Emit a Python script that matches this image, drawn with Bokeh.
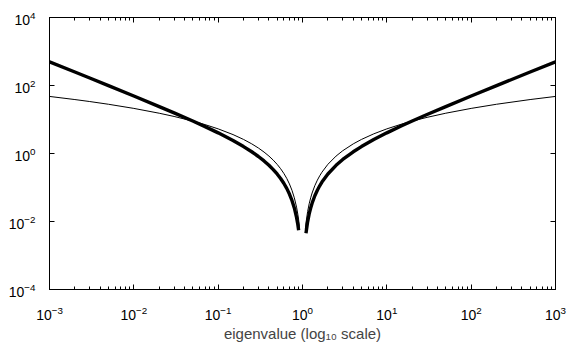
from bokeh.plotting import figure
from bokeh.models import LogAxis, FixedTicker, CustomJSTickFormatter
from bokeh.embed import file_html
from bokeh.resources import INLINE

# Left branch (eigenvalue < 1)
x_left_thick = [0.001, 0.002, 0.003, 0.005, 0.01, 0.02, 0.03, 0.05, 0.07, 0.1, 0.15, 0.2, 0.25, 0.3, 0.35,
                0.4, 0.45, 0.5, 0.55, 0.6, 0.65, 0.7, 0.75, 0.8, 0.85, 0.88, 0.9]
y_left_thick = [499.0, 249.0, 165.67, 99.0, 49.0, 24.01, 15.68, 9.025, 6.178, 4.05, 2.408, 1.6, 1.125, 0.8167, 0.6036,
                0.45, 0.3361, 0.25, 0.1841, 0.1333, 0.09423, 0.06429, 0.04167, 0.025, 0.01324, 0.00818, 0.005556]
x_left_thin = [0.001, 0.002, 0.003, 0.005, 0.01, 0.02, 0.03, 0.05, 0.07, 0.1, 0.15, 0.2, 0.25, 0.3, 0.35,
               0.4, 0.45, 0.5, 0.55, 0.6, 0.65, 0.7, 0.75, 0.8, 0.85, 0.88, 0.9, 0.92]
y_left_thin = [47.72, 38.62, 33.75, 28.07, 21.21, 15.30, 12.30, 8.974, 7.072, 5.302, 3.599, 2.590, 1.922, 1.450, 1.102,
               0.8396, 0.6376, 0.4805, 0.3574, 0.2609, 0.1856, 0.1272, 0.08276, 0.04979, 0.02641, 0.01634, 0.0111, 0.006952]

# Right branch (eigenvalue > 1)
x_right_thick = [1.1, 1.15, 1.2, 1.25, 1.3, 1.4, 1.5, 1.6, 1.7, 2, 2.5, 3, 4, 5, 7, 10, 15, 20, 30, 50,
                 100, 200, 500, 1000]
y_right_thick = [0.004545, 0.009783, 0.016667, 0.025, 0.034615, 0.057143, 0.083333, 0.1125, 0.144118, 0.25, 0.45,
                 0.666667, 1.125, 1.6, 2.571429, 4.05, 6.533333, 9.025, 14.01667, 24.01, 49.005, 99.0025, 249.001, 499.0005]
x_right_thin = [1.08, 1.1, 1.15, 1.2, 1.25, 1.3, 1.4, 1.5, 1.6, 1.7, 2, 2.5, 3, 4, 5, 7, 10, 15, 20, 30, 50,
                100, 200, 500, 1000]
y_right_thin = [0.005923, 0.009084, 0.01953, 0.03324, 0.04979, 0.06884, 0.11321, 0.1644, 0.2209, 0.28157, 0.480453,
                0.839589, 1.206949, 1.921812, 2.590290, 3.78657, 5.301898, 7.33353, 8.974412, 11.56814, 15.30392,
                21.20759, 28.07216, 38.62135, 47.71708]

x_major = [1e-3, 1e-2, 1e-1, 1e0, 1e1, 1e2, 1e3]
y_major = [1e-4, 1e-2, 1e0, 1e2, 1e4]
x_minor = [m * d for d in [1e-3, 1e-2, 1e-1, 1e0, 1e1, 1e2] for m in range(2, 10)]

FONT = "Liberation Sans"

p = figure(width=567, height=351, x_axis_type="log", y_axis_type="log",
           x_range=(1e-3, 1e3), y_range=(1e-4, 1e4),
           output_backend="svg", toolbar_location=None,
           min_border_left=49, min_border_top=17, min_border_right=12, min_border_bottom=62)
p.background_fill_color = "white"
p.border_fill_color = "white"
p.outline_line_color = "black"
p.outline_line_width = 1
p.xgrid.visible = False
p.ygrid.visible = False

p.line(x_left_thin, y_left_thin, line_color="black", line_width=1)
p.line(x_right_thin, y_right_thin, line_color="black", line_width=1)
p.line(x_left_thick, y_left_thick, line_color="black", line_width=3.4)
p.line(x_right_thick, y_right_thick, line_color="black", line_width=3.4)

xt = FixedTicker(ticks=x_major, minor_ticks=x_minor)
yt = FixedTicker(ticks=y_major, minor_ticks=[])


def style(ax, labels=True):
    ax.axis_line_color = "black"
    ax.axis_line_width = 1
    ax.major_tick_in = 5
    ax.major_tick_out = 0
    ax.minor_tick_in = 3
    ax.minor_tick_out = 0
    ax.major_tick_line_color = "black"
    ax.minor_tick_line_color = "black"
    ax.major_label_text_font = FONT
    ax.major_label_text_color = "black"
    ax.major_label_text_font_size = "14px"
    if not labels:
        ax.formatter = CustomJSTickFormatter(code="return '';")
        ax.major_label_standoff = 0


xa = p.xaxis[0]
xa.ticker = xt
style(xa)
xa.major_label_standoff = 16
xa.axis_label = "eigenvalue (log\u2081\u2080 scale)"
xa.axis_label_text_font = FONT
xa.axis_label_text_font_style = "normal"
xa.axis_label_text_font_size = "15px"
xa.axis_label_standoff = 2

ya = p.yaxis[0]
ya.ticker = yt
style(ya)
ya.major_label_standoff = 14

top = LogAxis(ticker=FixedTicker(ticks=x_major, minor_ticks=x_minor))
style(top, labels=False)
p.add_layout(top, "above")
right = LogAxis(ticker=FixedTicker(ticks=y_major, minor_ticks=[]))
style(right, labels=False)
p.add_layout(right, "right")

open("out.html", "w").write(file_html(p, INLINE))
